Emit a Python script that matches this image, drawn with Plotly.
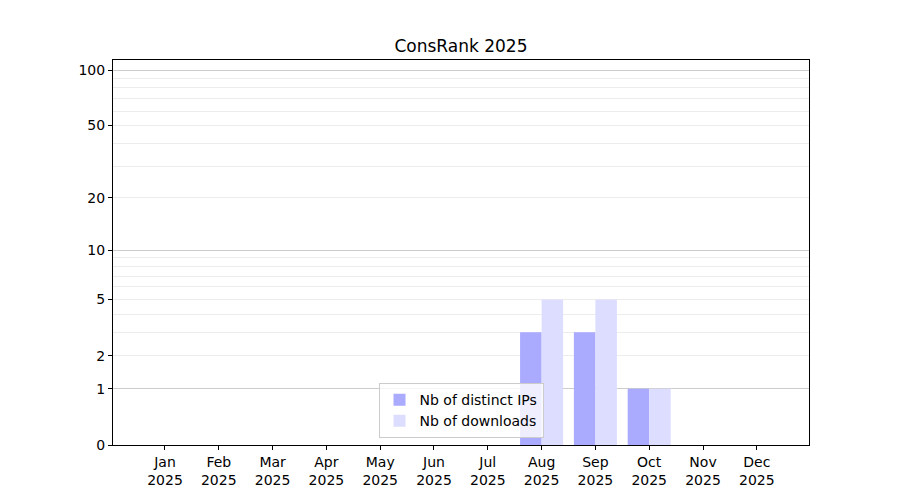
import numpy as np
import plotly.graph_objects as go

months = ["Jan", "Feb", "Mar", "Apr", "May", "Jun", "Jul", "Aug", "Sep", "Oct", "Nov", "Dec"]
year = "2025"
distinct_ips = [0, 0, 0, 0, 0, 0, 0, 3, 3, 1, 0, 0]
downloads = [0, 0, 0, 0, 0, 0, 0, 5, 5, 1, 0, 0]
y_ticks = [0, 1, 2, 5, 10, 20, 50, 100]
major_grid = [1, 10, 100]
minor_grid = [2, 3, 4, 5, 6, 7, 8, 9, 20, 30, 40, 50, 60, 70, 80, 90]


# y axis behaves like log10(1 + v)
def tr(v):
    return np.log10(1 + np.array(v, dtype=float))


x = list(range(len(months)))
ticktext = ["{}<br>{}".format(m, year) for m in months]
font = "DejaVu Sans"

fig = go.Figure()
fig.add_trace(go.Bar(x=x, y=tr(distinct_ips), name="Nb of distinct IPs",
                     marker=dict(color="#aaaaff", line=dict(width=0))))
fig.add_trace(go.Bar(x=x, y=tr(downloads), name="Nb of downloads",
                     marker=dict(color="#ddddff", line=dict(width=0))))
# invisible trace to carry the darker grid axis
fig.add_trace(go.Scatter(x=[None], y=[None], yaxis="y2", showlegend=False, hoverinfo="skip"))

yrange = [0, 2.058]
fig.update_layout(
    width=900, height=500,
    plot_bgcolor="white", paper_bgcolor="white",
    margin=dict(l=105, r=99, t=52, b=63),
    font=dict(family=font, size=14, color="black"),
    title=dict(text="ConsRank 2025", x=0.5033, xanchor="center", y=0.924, yanchor="middle",
               font=dict(size=17, family=font, color="black")),
    barmode="group", bargap=0.2, bargroupgap=0,
    showlegend=True,
    legend=dict(x=0.5, xanchor="center", y=0.018, yanchor="bottom",
                bgcolor="rgba(255,255,255,0.8)", bordercolor="#cccccc", borderwidth=1,
                font=dict(size=14, family=font), tracegroupgap=0),
    xaxis=dict(range=[-0.966, 11.97], tickmode="array", tickvals=x, ticktext=ticktext,
               showgrid=False, zeroline=False, showline=True, linecolor="black", linewidth=1,
               mirror=True, ticks="outside", ticklen=4, tickcolor="black"),
    yaxis=dict(range=yrange, tickmode="array", tickvals=tr(y_ticks),
               ticktext=[str(t) for t in y_ticks], showgrid=False, zeroline=False,
               showline=True, linecolor="black", linewidth=1, mirror=True,
               ticks="outside", ticklen=4, tickcolor="black",
               minor=dict(tickmode="array", tickvals=tr(minor_grid), showgrid=True,
                          gridcolor="#ececec", gridwidth=1, ticks="")),
    yaxis2=dict(range=yrange, overlaying="y", side="left", tickmode="array",
                tickvals=tr(major_grid), showticklabels=False, ticks="",
                showgrid=True, gridcolor="#cccccc", gridwidth=1, zeroline=False,
                showline=False),
)

fig.write_html("out.html")
